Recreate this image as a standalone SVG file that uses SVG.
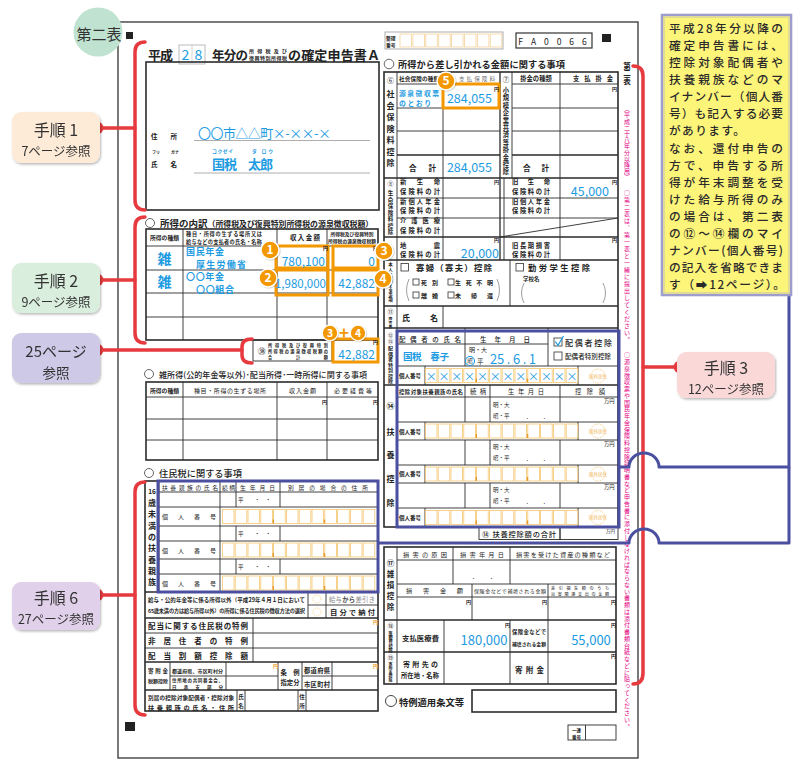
<svg xmlns="http://www.w3.org/2000/svg" width="800" height="780" viewBox="0 0 800 780">
<style>
text{font-family:"Noto Sans CJK JP","Noto Sans",sans-serif;fill:#222}
.ln{stroke:#2b2b2b;stroke-width:0.9;fill:none}
.bd{stroke:#2b2b2b;stroke-width:1.6;fill:none}
.s{font-size:6px;font-weight:700}
.m{text-anchor:middle}
.e{text-anchor:end}
.v{fill:#1d9be2}
.yen{font-size:5px;font-weight:700}
.oy{font-size:5px;font-weight:700;fill:#f0a22a}
.ob{stroke:#f39800;stroke-width:3;fill:none}
.red{stroke:#e63a3f;stroke-width:3.5;fill:none;stroke-linecap:round}
.dot{fill:#e63a3f}
.bx{stroke:#4b4f9f;stroke-width:3;fill:none}
.blue{stroke:#4b4f9f;stroke-width:3;fill:none;stroke-linejoin:round}
.lb{fill:#333;text-anchor:middle}
.num{font-size:12px;font-weight:700;fill:#fff;text-anchor:middle}
.sec{font-size:9.5px;font-weight:700}
.ck{fill:none;stroke:#333;stroke-width:0.8}
.yt{font-size:11.7px;font-weight:500;fill:#2a2a2a}
.vl{font-size:8px;font-weight:700;text-anchor:middle}
.lab{font-size:6.3px;font-weight:700}
.mg{writing-mode:vertical-rl;font-size:6px;fill:#e4007f;letter-spacing:0.75px}
</style>
<defs>
<filter id="sh" x="-10%" y="-10%" width="130%" height="140%"><feDropShadow dx="1" dy="1.5" stdDeviation="1.2" flood-color="#000" flood-opacity="0.28"/></filter>
<g id="cells">
<g fill="#fff" stroke="#f5c56e" stroke-width="0.8">
<rect x="0.4" y="0" width="11.6" height="14"/><rect x="13.2" y="0" width="11.6" height="14"/><rect x="26" y="0" width="11.6" height="14"/><rect x="38.8" y="0" width="11.6" height="14"/><rect x="51.6" y="0" width="11.6" height="14"/><rect x="64.4" y="0" width="11.6" height="14"/><rect x="77.2" y="0" width="11.6" height="14"/><rect x="90" y="0" width="11.6" height="14"/><rect x="102.8" y="0" width="11.6" height="14"/><rect x="115.6" y="0" width="11.6" height="14"/><rect x="128.4" y="0" width="11.6" height="14"/><rect x="141.2" y="0" width="11.6" height="14"/>
</g>
<rect x="50.6" y="10" width="1.4" height="4" fill="#e89a2c"/><rect x="101.8" y="10" width="1.4" height="4" fill="#e89a2c"/>
</g>
<g id="kg"><circle r="7" fill="none" stroke="#f5c56e" stroke-width="0.8" stroke-dasharray="1.5 1"/><text y="1.7" class="m" style="font-size:4.6px;fill:#f0b860">国外居住</text></g>
<g id="nc"><circle r="10" cx="0.8" cy="0.8" fill="#000" opacity="0.15"/><circle r="9" fill="#f39800" stroke="#fff" stroke-width="1.5"/></g>
<g id="ncs"><circle r="8.6" cx="0.7" cy="0.7" fill="#000" opacity="0.15"/><circle r="7.8" fill="#f39800" stroke="#fff" stroke-width="1.3"/></g>
</defs>

<rect width="800" height="780" fill="#fff"/>

<g id="page">
<rect x="118" y="22" width="520" height="736" fill="#fff" stroke="#333" stroke-width="1.3"/>
<rect x="126" y="32" width="7" height="7" fill="#222"/>
<rect x="602" y="34" width="9" height="8" fill="#222"/>
<rect x="125" y="722" width="10" height="9" fill="#222"/>
</g>

<g id="title-circle">
<circle cx="98" cy="32" r="24.5" fill="#bfe3d0"/>
<text x="99" y="40" class="m" style="font-size:15px;fill:#333">第二表</text>
</g>

<g id="title">
<text x="148" y="60" style="font-size:13px;font-weight:700" textLength="25">平成</text>
<rect x="179" y="45" width="26" height="19" fill="#fff" stroke="#aaa" stroke-width="0.8"/>
<line x1="192" y1="45" x2="192" y2="64" stroke="#ccc" stroke-width="0.8"/>
<text x="185.5" y="60" class="m v" style="font-size:14px">2</text>
<text x="198.5" y="60" class="m v" style="font-size:14px">8</text>
<text x="212" y="60" style="font-size:12.5px;font-weight:700" textLength="36">年分の</text>
<text x="249" y="52.5" style="font-size:5px;font-weight:700" textLength="38">所得税及び</text>
<text x="249" y="59.5" style="font-size:5px;font-weight:700" textLength="38">復興特別所得税</text>
<text x="288" y="60" style="font-size:13px;font-weight:700" textLength="92">の確定申告書Ａ</text>
<rect x="385" y="32" width="118" height="17" fill="none" stroke="#999" stroke-width="0.8"/>
<text x="386" y="39.5" style="font-size:4.8px;font-weight:700">整理</text>
<text x="386" y="46.5" style="font-size:4.8px;font-weight:700">番号</text>
<g fill="#fff" stroke="#f5d39a" stroke-width="0.8">
<rect x="400" y="34" width="11.5" height="13"/><rect x="412.9" y="34" width="11.5" height="13"/><rect x="425.8" y="34" width="11.5" height="13"/><rect x="438.7" y="34" width="11.5" height="13"/><rect x="451.6" y="34" width="11.5" height="13"/><rect x="464.5" y="34" width="11.5" height="13"/><rect x="477.4" y="34" width="11.5" height="13"/><rect x="490.3" y="34" width="11.5" height="13"/>
</g>
<rect x="516" y="33" width="76" height="15" fill="#fff" stroke="#333" stroke-width="1.2"/>
<text x="554" y="44.5" class="m" style="font-size:8.5px;letter-spacing:3px">F A 0 0 6 6</text>
</g>

<g id="address">
<rect x="146" y="62" width="233" height="148" class="bd"/>
<text x="151" y="139" class="s" style="font-size:6.5px" textLength="26">住　所</text>
<text x="198" y="138" class="v" style="font-size:13px" textLength="133">〇〇市△△町×-××-×</text>
<line x1="194" y1="140.5" x2="370" y2="140.5" stroke="#999" stroke-width="0.8"/>
<text x="152" y="154" style="font-size:4px;font-weight:700">フリ</text>
<text x="171" y="154" style="font-size:4px;font-weight:700">ガナ</text>
<text x="151" y="167" class="s" style="font-size:6.5px" textLength="26">氏　名</text>
<text x="212" y="152.5" class="v" style="font-size:4.8px;font-weight:700" textLength="21">コクゼイ</text>
<text x="252" y="152.5" class="v" style="font-size:4.8px;font-weight:700" textLength="21">タ ロウ</text>
<text x="212" y="169" class="v" style="font-size:13px;font-weight:700" textLength="61">国税　太郎</text>
<line x1="194" y1="173" x2="370" y2="173" stroke="#999" stroke-width="0.8"/>
</g>

<g id="income-breakdown">
<circle cx="150" cy="223" r="4.5" fill="none" stroke="#555" stroke-width="0.9"/>
<text x="160" y="226.5" class="sec">所得の内訳<tspan style="font-size:7.9px">（所得税及び復興特別所得税の源泉徴収税額）</tspan></text>
<rect x="146" y="229" width="232" height="111" class="bd"/>
<path class="ln" d="M146,246H378M146,270H378M146,293H378M146,317H378M183,229V340M277,229V340M327,229V340"/>
<text x="164.5" y="240" class="s m" style="font-size:5.8px">所得の種類</text>
<text x="186" y="236" class="s" style="font-size:5.2px" textLength="76">種目・所得の生ずる場所又は</text>
<text x="186" y="243.5" class="s" style="font-size:5.2px" textLength="76">給与などの支払者の氏名・名称</text>
<text x="290" y="240" class="s" style="font-size:6.5px" textLength="30">収入金額</text>
<text x="352" y="236" class="s m" style="font-size:4.8px">所得税及び復興特別</text>
<text x="352" y="243" class="s m" style="font-size:4.8px">所得税の源泉徴収税額</text>
<text x="164.5" y="264" class="m v" style="font-size:14px;font-weight:700">雑</text>
<text x="186" y="255" class="v" style="font-size:9px;font-weight:700" textLength="38">国民年金</text>
<text x="196" y="268" class="v" style="font-size:9px;font-weight:700" textLength="50">厚生労働省</text>
<text x="164.5" y="287" class="m v" style="font-size:14px;font-weight:700">雑</text>
<text x="186" y="279.5" class="v" style="font-size:9px;font-weight:700" textLength="38">〇〇年金</text>
<text x="196" y="292.5" class="v" style="font-size:9px;font-weight:700" textLength="38">〇〇組合</text>
<rect x="276" y="246" width="52" height="22" class="ob"/>
<rect x="333" y="246" width="45" height="22" class="ob"/>
<rect x="276" y="270" width="52" height="25" class="ob"/>
<rect x="333" y="270" width="45" height="25" class="ob"/>
<text x="323" y="250" class="yen">円</text>
<text x="373" y="250" class="yen">円</text>
<text x="325" y="266" class="e v" style="font-size:12px">780,100</text>
<text x="375" y="266" class="e v" style="font-size:12px">0</text>
<text x="326" y="288" class="e v" style="font-size:11.5px">1,980,000</text>
<text x="375" y="288" class="e v" style="font-size:12px">42,882</text>
<rect x="253" y="340" width="79" height="21" fill="#fff" class="ln"/>
<text x="258" y="354" style="font-size:7.5px">㊳</text>
<text x="268" y="346.5" class="s" style="font-size:4.2px" textLength="60">所得税及び復興特別</text>
<text x="268" y="352.7" class="s" style="font-size:4.2px" textLength="60">所得税の源泉徴収税額の</text>
<text x="268" y="358.9" class="s" style="font-size:4.2px" textLength="60">合　　　　計　　　　額</text>
<rect x="333" y="339" width="45" height="23" fill="#fff" class="ob"/>
<text x="373" y="343.5" class="yen">円</text>
<text x="375" y="359" class="e v" style="font-size:12px">42,882</text>
</g>

<g id="misc-income">
<circle cx="149" cy="374" r="4.5" fill="none" stroke="#555" stroke-width="0.9"/>
<text x="159" y="377.5" class="sec" style="font-size:8px;font-weight:500" textLength="208">雑所得(公的年金等以外)･配当所得･一時所得に関する事項</text>
<rect x="146" y="382" width="232" height="78" class="bd"/>
<path class="ln" d="M146,397H378M146,419H378M146,440H378M183,382V460M277,382V460M327,382V460"/>
<text x="164.5" y="392.5" class="s m" style="font-size:5.8px">所得の種類</text>
<text x="194" y="392.5" style="font-size:6px" textLength="72">種目・所得の生ずる場所</text>
<text x="289" y="392.5" style="font-size:6px" textLength="27">収入金額</text>
<text x="334" y="392.5" style="font-size:6px" textLength="38">必要経費等</text>
<text x="322" y="404" class="yen">円</text>
<text x="373" y="404" class="yen">円</text>
</g>

<g id="resident-tax">
<circle cx="149" cy="473" r="4.5" fill="none" stroke="#555" stroke-width="0.9"/>
<text x="159" y="477" class="sec" style="font-size:9.2px;font-weight:500" textLength="83">住民税に関する事項</text>
<rect x="145" y="481" width="233" height="230" class="bd"/>
<path class="ln" d="M159,481V592M159,492H378M159,507H378M159,526H378M159,541H378M159,559H378M159,574H378M220,481V592M236,481V507M236,526V541M236,559V574M280,481V507M280,526V541M280,559V574M308,592V618M326,592V618M308,605H378M253,618V662M145,633H378M145,648H378M170,662V690M226,662V690M278,662V690M302,662V690M332,662V690M170,676H278M302,676H378M237,690V711M245,690V711M298,690V711M306,690V711"/>
<path class="bd" style="stroke-width:1.3" d="M145,592H378M145,618H378M145,662H378M145,690H378"/>
<text x="152" y="494" class="s m" style="font-size:6.5px">16</text>
<text class="vl" x="152 152 152 152 152 152 152 152" y="506 517.3 528.6 539.9 551.2 562.5 573.8 585.1">歳未満の扶養親族</text>
<text x="162" y="489.5" style="font-size:5.8px" textLength="56">扶養親族の氏名</text>
<text x="222" y="489.5" style="font-size:5.8px" textLength="13">続柄</text>
<text x="240" y="489.5" style="font-size:5.8px" textLength="35">生年月日</text>
<text x="288" y="489.5" style="font-size:5.8px" textLength="80">別居の場合の住所</text>
<text x="238" y="502" style="font-size:5.5px">平　　・　・</text>
<text x="238" y="536" style="font-size:5.5px">平　　・　・</text>
<text x="238" y="569" style="font-size:5.5px">平　　・　・</text>
<text x="162" y="519" style="font-size:6px" textLength="54">個人番号</text>
<text x="162" y="553" style="font-size:6px" textLength="54">個人番号</text>
<text x="162" y="586" style="font-size:6px" textLength="54">個人番号</text>
<use href="#cells" x="222" y="509.5"/>
<use href="#cells" x="222" y="543"/>
<use href="#cells" x="222" y="576"/>
<text x="148" y="602" class="s" style="font-size:5.5px" textLength="157">給与・公的年金等に係る所得以外（平成29年４月１日において</text>
<text x="148" y="613" class="s" style="font-size:5.2px" textLength="157">65歳未満の方は給与所得以外）の所得に係る住民税の徴収方法の選択</text>
<circle cx="317" cy="599" r="4" fill="none" stroke="#f5c56e" stroke-width="0.8" stroke-dasharray="1 1"/>
<circle cx="317" cy="612" r="4" fill="none" stroke="#f5c56e" stroke-width="0.8" stroke-dasharray="1 1"/>
<text x="329" y="602" style="font-size:6.3px;fill:#888" textLength="46">給与<tspan style="font-weight:700;fill:#444">から</tspan>差引き</text>
<text x="330" y="615" class="s" style="font-size:7.3px" textLength="45">自分で納付</text>
<text x="148" y="629" class="s" style="font-size:7.5px" textLength="100">配当に関する住民税の特例</text>
<text x="148" y="644" class="s" style="font-size:7.5px" textLength="100">非居住者の特例</text>
<text x="148" y="659" class="s" style="font-size:7.5px" textLength="100">配当割額控除額</text>
<text x="373" y="623.5" class="oy">円</text>
<text x="148" y="673" class="s" style="font-size:5.5px" textLength="20">寄附金</text>
<text x="148" y="683" class="s" style="font-size:5px" textLength="20">税額控除</text>
<text x="172" y="673" class="s" style="font-size:5px" textLength="51">都道府県、市区町村分</text>
<text x="172" y="682" class="s" style="font-size:4.5px" textLength="51">住所地の共同募金会、</text>
<text x="172" y="689" class="s" style="font-size:4.5px" textLength="51">日赤支部分</text>
<text x="273" y="668" class="oy">円</text>
<text x="290" y="675" class="s m" style="font-size:6.3px">条　例</text>
<text x="290" y="684.5" class="s m" style="font-size:6.3px">指定分</text>
<text x="304" y="673" class="s" style="font-size:6.3px" textLength="26">都道府県</text>
<text x="304" y="687" class="s" style="font-size:6.3px" textLength="26">市区町村</text>
<text x="373" y="668" class="oy">円</text>
<text x="148" y="700" class="s" style="font-size:5.6px" textLength="86">別居の控除対象配偶者・控除対象</text>
<text x="148" y="709.5" class="s" style="font-size:6.2px" textLength="86">扶養親族の氏名・住所</text>
<text x="241" y="699" class="s m" style="font-size:5.5px">氏</text>
<text x="241" y="708" class="s m" style="font-size:5.5px">名</text>
<text x="302" y="699" class="s m" style="font-size:5.5px">住</text>
<text x="302" y="708" class="s m" style="font-size:5.5px">所</text>
<rect x="158" y="481" width="220" height="111" class="bx"/>
</g>

<g id="deductions">
<circle cx="389" cy="64" r="4.8" fill="none" stroke="#555" stroke-width="0.9"/>
<text x="398" y="68" class="sec" style="font-size:9.2px" textLength="167">所得から差し引かれる金額に関する事項</text>
<rect x="384" y="72" width="234" height="455" class="bd"/>
<path class="ln" d="M397,72V527M443,72V178M512,72V178M560,72V178M397,84H500M512,84H618M397,108H500M512,108H618M397,131H500M512,131H618M443,178V260M504,178V260M560,178V260M397,198H618M397,218H618M500,237L618,218M510,260V306M443,306V328M465,328V366M548,328V366M397,344H548M397,366H618M425,366V385M578,366V385M465,385V422M490,385V422M560,385V422M397,397H618M397,422H618M425,422V440M578,422V440M397,440H618M465,440V465M490,440V465M560,440V465M397,465H618M425,465V483M578,465V483M397,483H618M465,483V508M490,483V508M560,483V508M397,508H618M425,508V527M578,508V527"/>
<path class="bd" style="stroke-width:1.3" d="M500,72V260M397,155H500M512,155H618M384,178H618M384,237H618M384,260H618M384,306H618M384,328H618M384,385H618"/>
<text x="390.5" y="83" class="m" style="font-size:7px">⑥</text>
<text class="vl" x="390.5 390.5 390.5 390.5 390.5 390.5 390.5" y="97 108.5 120 131.5 143 154.5 166">社会保険料控除</text>
<text x="399" y="81" class="s" style="font-size:5.6px" textLength="40">社会保険の種類</text>
<text x="459" y="81" style="font-size:5.6px;fill:#777" textLength="36">支払保険料</text>
<text x="399" y="96" class="v" style="font-size:6.8px;font-weight:700" textLength="40">源泉徴収票</text>
<text x="399" y="105.8" class="v" style="font-size:6.8px;font-weight:700" textLength="32">のとおり</text>
<rect x="443" y="84" width="56" height="24" class="ob"/>
<text x="494" y="90.5" class="yen">円</text>
<text x="492" y="103" class="e v" style="font-size:12.5px">284,055</text>
<text x="409" y="171" class="s" style="font-size:7.5px" textLength="27">合　計</text>
<text x="492" y="172" class="e v" style="font-size:12.5px">284,055</text>
<text x="506" y="82" class="m" style="font-size:6.5px">⑦</text>
<text class="vl" style="font-size:6.3px" x="506 506 506 506 506 506 506 506 506 506 506 506" y="93 100.4 107.8 115.2 122.6 130 137.4 144.8 152.2 159.6 167 174.4">小規模企業共済等掛金控除</text>
<text x="536" y="81" class="s m" style="font-size:6.3px">掛金の種類</text>
<text x="573" y="81" class="s" style="font-size:6.3px" textLength="40">支払掛金</text>
<text x="612" y="90.5" class="yen">円</text>
<text x="523" y="171" class="s" style="font-size:7.5px" textLength="26">合　計</text>
<text x="390.5" y="186" class="m" style="font-size:6px">⑧</text>
<text class="vl" style="font-size:5.5px" x="390.5 390.5 390.5 390.5 390.5 390.5 390.5" y="195 201.5 208 214.5 221 227.5 234">生命保険料控除</text>
<text x="400" y="184" class="lab" textLength="40">新生命</text>
<text x="400" y="193.5" class="lab" textLength="40">保険料の計</text>
<text x="400" y="203.5" class="lab" textLength="40">新個人年金</text>
<text x="400" y="213" class="lab" textLength="40">保険料の計</text>
<text x="400" y="223" class="lab" textLength="40">介護医療</text>
<text x="400" y="232.5" class="lab" textLength="40">保険料の計</text>
<text x="400" y="247.5" class="lab" textLength="40">地　　震</text>
<text x="400" y="257" class="lab" textLength="40">保険料の計</text>
<text x="494" y="184" class="yen">円</text>
<text x="494" y="242" class="yen">円</text>
<text x="499" y="257.5" class="e v" style="font-size:12.5px">20,000</text>
<text x="512" y="184" class="lab" textLength="38">旧生命</text>
<text x="512" y="193.5" class="lab" textLength="38">保険料の計</text>
<text x="512" y="203.5" class="lab" textLength="38">旧個人年金</text>
<text x="512" y="213" class="lab" textLength="38">保険料の計</text>
<text x="512" y="247.5" class="lab" textLength="38">旧長期損害</text>
<text x="512" y="257" class="lab" textLength="38">保険料の計</text>
<text x="612" y="184" class="yen">円</text>
<text x="612" y="242" class="yen">円</text>
<text x="609" y="195.5" class="e v" style="font-size:12.5px">45,000</text>
<text class="m" style="font-size:4.5px;font-weight:700" x="390.5 390.5 390.5 390.5 390.5 390.5 390.5 390.5" y="266 271 276 281 286 291 296 301">本人に関する事項</text>
<rect x="401" y="263.5" width="7.5" height="7.5" class="ck"/>
<text x="416" y="271" class="s" style="font-size:8.3px" textLength="76">寡婦（寡夫）控除</text>
<path d="M409,279Q404,290 409,301M497,279Q502,290 497,301M524,283Q519,293 524,303M603,283Q608,293 603,303" fill="none" stroke="#888" stroke-width="0.8"/>
<rect x="413" y="279" width="6" height="6" class="ck"/>
<text x="421" y="285" class="s" textLength="17">死　別</text>
<rect x="448" y="279" width="6" height="6" class="ck"/>
<text x="455" y="285" class="s" textLength="38">生死不明</text>
<rect x="413" y="292" width="6" height="6" class="ck"/>
<text x="421" y="298" class="s" textLength="17">離　婚</text>
<rect x="448" y="292" width="6" height="6" class="ck"/>
<text x="455" y="298" class="s" textLength="38">未　帰　還</text>
<rect x="516" y="263.5" width="7.5" height="7.5" class="ck"/>
<text x="528" y="271" class="s" style="font-size:8.3px" textLength="62">勤労学生控除</text>
<text x="523" y="281" class="s" style="font-size:5.5px">学校名</text>
<text x="390.5" y="314" class="m" style="font-size:6px">⑪</text>
<text class="m" style="font-size:3.8px;font-weight:700" x="390.5 390.5 390.5" y="320 324 328">障害者</text>
<text x="402" y="320.5" class="s" style="font-size:8px" textLength="36">氏　名</text>
<text class="m" style="font-size:5px" x="390.5 390.5" y="337 343">⑫⑬</text>
<text class="m" style="font-size:5px;font-weight:700" x="390.5 390.5 390.5 390.5 390.5 390.5 390.5" y="350 355.5 361 366.5 372 377.5 383">配偶者特別控除</text>
<text x="399" y="341.5" style="font-size:6.5px;font-weight:500" textLength="62">配偶者の氏名</text>
<text x="480" y="341.5" style="font-size:6.5px;font-weight:500" textLength="50">生年月日</text>
<text x="403" y="360" class="v" style="font-size:9.5px;font-weight:700" textLength="46">国税　春子</text>
<text x="469" y="352" style="font-size:6px">明・大</text>
<circle cx="470" cy="361" r="4.5" fill="none" stroke="#1d9be2" stroke-width="1.1"/>
<text x="470" y="363.2" class="m" style="font-size:5.5px">昭</text>
<text x="477" y="364" style="font-size:6.5px">平</text>
<text x="490" y="364" class="v" style="font-size:13px" textLength="46">25 . 6 . 1</text>
<rect x="554" y="338" width="8" height="8" class="ck"/>
<path d="M555.3,341.5L558,345.3L563.5,336" fill="none" stroke="#1d9be2" stroke-width="1.2"/>
<text x="565" y="346" style="font-size:8px;font-weight:500" textLength="47">配偶者控除</text>
<rect x="554" y="352" width="8" height="8" class="ck"/>
<text x="565" y="359" style="font-size:6.5px;font-weight:500" textLength="46">配偶者特別控除</text>
<text x="399" y="378" class="s" style="font-size:5.5px">個人番号</text>
<use href="#cells" x="425" y="368.5"/>
<text class="m v" style="font-size:11px" x="431.2 444 456.8 469.6 482.4 495.2 508 520.8 533.6 546.4 559.2 572" y="380.5">××××××××××××</text>
<use href="#kg" x="598" y="376"/>
<text class="vl" x="390.5 390.5 390.5 390.5 390.5" y="409 435 458 482 506">⑭扶養控除</text>
<text x="399" y="394" class="s" style="font-size:5.4px" textLength="64">控除対象扶養親族の氏名</text>
<text x="470" y="394" style="font-size:6.3px" textLength="16">続柄</text>
<text x="508" y="394" style="font-size:6.3px" textLength="36">生年月日</text>
<text x="575" y="394" style="font-size:6.3px" textLength="30">控除額</text>
<text x="493" y="407" style="font-size:5.5px">明・大</text>
<text x="493" y="418" style="font-size:5.5px">昭・平</text>
<text x="526" y="418" style="font-size:5.5px">．</text><text x="543" y="418" style="font-size:5.5px">．</text>
<text x="604" y="403" style="font-size:5.3px">万円</text>
<text x="399" y="434" class="s" style="font-size:5.5px">個人番号</text>
<use href="#cells" x="425" y="424"/>
<use href="#kg" x="598" y="431"/>
<text x="493" y="449" style="font-size:5.5px">明・大</text>
<text x="493" y="460" style="font-size:5.5px">昭・平</text>
<text x="526" y="460" style="font-size:5.5px">．</text><text x="543" y="460" style="font-size:5.5px">．</text>
<text x="604" y="446" style="font-size:5.3px">万円</text>
<text x="399" y="476" class="s" style="font-size:5.5px">個人番号</text>
<use href="#cells" x="425" y="467"/>
<use href="#kg" x="598" y="474"/>
<text x="493" y="492" style="font-size:5.5px">明・大</text>
<text x="493" y="503" style="font-size:5.5px">昭・平</text>
<text x="526" y="503" style="font-size:5.5px">．</text><text x="543" y="503" style="font-size:5.5px">．</text>
<text x="604" y="489" style="font-size:5.3px">万円</text>
<text x="399" y="520" class="s" style="font-size:5.5px">個人番号</text>
<use href="#cells" x="425" y="510.5"/>
<use href="#kg" x="598" y="517.5"/>
<rect x="479" y="527" width="81" height="12.5" fill="#fff" class="ln"/>
<rect x="560" y="527" width="58" height="12.5" fill="#fff" class="ln"/>
<text x="482" y="536.5" style="font-size:7.3px;font-weight:500" textLength="74">⑭ 扶養控除額の合計</text>
<text x="606" y="533" style="font-size:4.5px">万円</text>
<rect x="397" y="331" width="222" height="196" class="bx"/>
</g>

<g id="deductions-lower">
<rect x="384" y="547" width="232" height="137" class="bd"/>
<path class="ln" d="M397,547V684M453,547V584M510,547V584M397,560H616M397,584H616M397,597H616M472,584V620M548,584V620M444,620V684M510,620V684M548,620V684"/>
<path class="bd" style="stroke-width:1.4" d="M384,620H616M384,652H616"/>
<text class="vl" style="font-size:7.5px" x="390.5 390.5 390.5 390.5 390.5" y="566 577 588 599 610">⑰雑損控除</text>
<text x="403" y="557" style="font-size:6.2px" textLength="44">損害の原因</text>
<text x="460" y="557" style="font-size:6.2px" textLength="44">損害年月日</text>
<text x="516" y="557" style="font-size:6.2px" textLength="94">損害を受けた資産の種類など</text>
<text x="472" y="578" style="font-size:6px">．</text><text x="490" y="578" style="font-size:6px">．</text>
<text x="406" y="593" style="font-size:6.2px" textLength="57">損　害　金　額</text>
<text x="474" y="592.5" style="font-size:5px" textLength="72">保険金などで補填される金額</text>
<text x="551" y="589.5" style="font-size:4.1px" textLength="58">差引損失額のうち</text>
<text x="551" y="595.5" style="font-size:4.1px" textLength="58">災害関連支出の金額</text>
<text x="466" y="603.5" class="yen">円</text>
<text x="542" y="603.5" class="yen">円</text>
<text x="611" y="603.5" class="yen">円</text>
<text x="390.5" y="628" class="m" style="font-size:6px">⑱</text>
<text class="m" style="font-size:4.2px;font-weight:700" x="390.5 390.5 390.5 390.5 390.5" y="635 639.2 643.4 647.6 651.8">医療費控除</text>
<text x="402" y="641" class="s" style="font-size:7.3px" textLength="37">支払医療費</text>
<text x="505" y="626.5" class="yen">円</text>
<text x="484" y="645" class="m v" style="font-size:13px">180,000</text>
<text x="512" y="634" class="s" style="font-size:5.3px" textLength="34">保険金などで</text>
<text x="512" y="646" class="s" style="font-size:4.8px" textLength="34">補填される金額</text>
<text x="611" y="626.5" class="yen">円</text>
<text x="591" y="645" class="m v" style="font-size:13px">55,000</text>
<text x="390.5" y="660" class="m" style="font-size:6px">⑲</text>
<text class="m" style="font-size:4px;font-weight:700" x="390.5 390.5 390.5 390.5 390.5" y="666 670 674 678 682">寄附金控除</text>
<text x="403" y="667" class="s" style="font-size:7px" textLength="35">寄附先の</text>
<text x="401" y="678" class="s" style="font-size:6.3px" textLength="38">所在地・名称</text>
<text x="515" y="672.5" class="s" style="font-size:7.5px" textLength="29">寄附金</text>
<text x="611" y="658" class="yen">円</text>
<circle cx="391" cy="701" r="5.5" fill="none" stroke="#444" stroke-width="1"/>
<text x="399" y="705.5" style="font-size:9.3px;font-weight:700" textLength="65">特例適用条文等</text>
<rect x="472" y="690" width="144" height="22" class="bd"/>
<rect x="568" y="725" width="48" height="15" class="ln"/>
<line x1="585.5" y1="725" x2="585.5" y2="740" class="ln"/>
<text x="576.5" y="732" class="m" style="font-size:4.5px;font-weight:700">一連</text>
<text x="576.5" y="738.5" class="m" style="font-size:4.5px;font-weight:700">番号</text>
<text x="627" y="62" style="writing-mode:vertical-rl;font-size:7.5px;font-weight:700">第二表</text>
<text x="627" y="106" class="mg" style="letter-spacing:0.2px">（平成二十八年分以降用）</text>
<text x="627" y="190" class="mg" style="letter-spacing:1px">○第二表は、第一表と一緒に提出してください。</text>
<text x="627" y="352" class="mg">○源泉徴収票や国民年金保険料控除証明書など申告書に添付しなければならない書類は添付書類台紙などに貼ってください。</text>
</g>

<g id="step-markers">
<use href="#nc" x="270" y="250"/><text x="270" y="254.3" class="num">1</text>
<use href="#nc" x="268" y="278"/><text x="268" y="282.3" class="num">2</text>
<use href="#nc" x="384" y="251"/><text x="384" y="255.3" class="num">3</text>
<use href="#nc" x="383" y="279"/><text x="383" y="283.3" class="num">4</text>
<use href="#nc" x="446" y="81"/><text x="446" y="85.3" class="num">5</text>
<use href="#ncs" x="330" y="333"/><text x="330" y="337" class="num" style="font-size:10.5px">3</text>
<text x="344" y="339" class="m" style="font-size:17px;font-weight:700;fill:#f39800">+</text>
<use href="#ncs" x="358" y="333"/><text x="358" y="337" class="num" style="font-size:10.5px">4</text>
</g>

<g id="connectors">
<path class="red" d="M145,42Q135,42 135,52V200Q135,210 145,210"/>
<path class="red" d="M97,128H135"/><circle class="dot" cx="97" cy="128" r="6.5"/>
<path class="red" d="M145,217Q135,217 135,227V333Q135,343 145,343"/>
<path class="red" d="M97,280H135"/><circle class="dot" cx="97" cy="280" r="6.5"/>
<path class="red" d="M252,339Q242,339 242,347V355Q242,363 252,363"/>
<path class="red" d="M97,350H242"/><circle class="dot" cx="97" cy="350" r="6.5"/>
<path class="red" d="M145,482Q135,482 135,492V705Q135,715 145,715"/>
<path class="red" d="M97,595H135"/><circle class="dot" cx="97" cy="595" r="6.5"/>
<path class="red" d="M633,66Q643,66 643,76V673Q643,684 633,684"/>
<path class="red" d="M643,367H680"/><circle class="dot" cx="680" cy="367" r="6.5"/>
<path class="blue" d="M789,296V467H659A15,14 0 0 0 629,467H620"/>
<path class="blue" d="M789,467V543H659A15,14 0 0 0 629,543H378"/>
</g>

<g id="note-yellow">
<rect x="662" y="15" width="129" height="280" fill="#fdf47a" stroke="#9d9dce" stroke-width="2.6"/>
<rect x="664.5" y="17.5" width="124" height="275" fill="none" stroke="#d9d6a0" stroke-width="0.8"/>
<text class="yt" x="669" y="33" textLength="114">平成28年分以降の</text>
<text class="yt" x="669" y="50.1" textLength="114">確定申告書には、</text>
<text class="yt" x="669" y="67.1" textLength="114">控除対象配偶者や</text>
<text class="yt" x="669" y="84.2" textLength="114">扶養親族などのマ</text>
<text class="yt" x="669" y="101.3" textLength="114">イナンバー（個人番</text>
<text class="yt" x="669" y="118.3" textLength="114">号）も記入する必要</text>
<text class="yt" x="669" y="135.4" textLength="76">があります。</text>
<text class="yt" x="669" y="152.5" textLength="114">なお、還付申告の</text>
<text class="yt" x="669" y="169.5" textLength="114">方で、申告する所</text>
<text class="yt" x="669" y="186.6" textLength="114">得が年末調整を受</text>
<text class="yt" x="669" y="203.7" textLength="114">けた給与所得のみ</text>
<text class="yt" x="669" y="220.7" textLength="114">の場合は、第二表</text>
<text class="yt" x="669" y="237.8" textLength="114">の⑫～⑭欄のマイ</text>
<text class="yt" x="669" y="254.9" textLength="114">ナンバー(個人番号)</text>
<text class="yt" x="669" y="271.9" textLength="114">の記入を省略できま</text>
<text class="yt" x="669" y="289" textLength="116">す（➡12ページ）。</text>
</g>

<g id="step1" filter="url(#sh)">
<rect x="12" y="112" width="88" height="51" rx="9" fill="#fdebd8"/>
<text x="56" y="136" class="lb" style="font-size:16px">手順 1</text>
<text x="56" y="156" class="lb" style="font-size:12.5px">7ページ参照</text>
</g>
<g id="step2" filter="url(#sh)">
<rect x="12" y="263" width="88" height="50" rx="9" fill="#d9eedd"/>
<text x="56" y="287" class="lb" style="font-size:16px">手順 2</text>
<text x="56" y="306.5" class="lb" style="font-size:12.5px">9ページ参照</text>
</g>
<g id="page25" filter="url(#sh)">
<rect x="12" y="333" width="88" height="50" rx="9" fill="#cdc9e7"/>
<text x="56" y="356.5" class="lb" style="font-size:15px">25ページ</text>
<text x="56" y="377.5" class="lb" style="font-size:13.5px">参照</text>
</g>
<g id="step6" filter="url(#sh)">
<rect x="12" y="582" width="88" height="48" rx="9" fill="#e0d0ea"/>
<text x="56" y="604" class="lb" style="font-size:16px">手順 6</text>
<text x="56" y="623.5" class="lb" style="font-size:12.5px">27ページ参照</text>
</g>
<g id="step3" filter="url(#sh)">
<rect x="677" y="352" width="98" height="46" rx="9" fill="#fbd8d8"/>
<text x="726" y="374" class="lb" style="font-size:16px">手順 3</text>
<text x="726" y="393.5" class="lb" style="font-size:12.5px">12ページ参照</text>
</g>
</svg>
